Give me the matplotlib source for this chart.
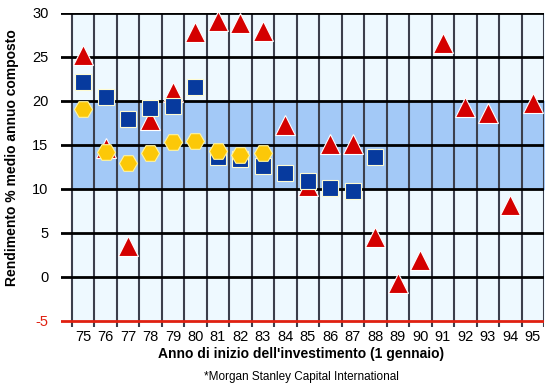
import numpy as np
import matplotlib.pyplot as plt

years = np.arange(75, 96)
year_labels = [str(y) for y in years]

# red triangles (one per year)
tri_vals = [25.2, 14.6, 3.5, 17.8, 21.0, 27.8, 29.1, 28.9, 27.9, 17.3, 10.3,
            15.1, 15.1, 4.5, -0.7, 1.9, 26.6, 19.3, 18.6, 8.2, 19.8]
# blue squares, 75-88
sq_years = np.arange(75, 89)
sq_vals = [22.2, 20.4, 18.0, 19.2, 19.4, 21.6, 13.6, 13.4, 12.6, 11.8, 10.9,
           10.1, 9.8, 13.6]
# yellow hexagons, 75-83
hex_years = np.arange(75, 84)
hex_vals = [19.1, 14.2, 12.9, 14.1, 15.3, 15.4, 14.3, 13.8, 14.1]

yticks = [-5, 0, 5, 10, 15, 20, 25, 30]

narrow = ['Liberation Sans Narrow', 'Liberation Sans', 'DejaVu Sans']

fig = plt.figure(figsize=(5.5, 3.87), dpi=100)
W, H = 550, 387
ax = fig.add_axes([61 / W, 1 - 327 / H, (544 - 61) / W, (327 - 13) / H])
ax.set_xlim(74.02, 95.5)
ax.set_ylim(-5.7, 30)
for s in ax.spines.values():
    s.set_visible(False)

# backgrounds
ax.fill_between([74.5, 95.5], -5, 30, color='#eef9ff', zorder=0)
ax.fill_between([74.5, 95.5], 10, 20, color='#a3c9f7', zorder=0.5)

# grid
ax.vlines(np.arange(74.5, 96), -5.7, 30, color='#3c3f4c', lw=1.5, zorder=1)
for y in yticks[1:]:
    ax.axhline(y, color='black', lw=2, zorder=1.5)
ax.axhline(-5, color='#e02010', lw=2, zorder=1.5)

ax.plot(years, tri_vals, '^', ms=14, color='#d40000', mec='white', mew=0.8,
        ls='none', zorder=3)
ax.plot(sq_years, sq_vals, 's', ms=11, color='#073a9e', mec='#fffbd0',
        mew=0.8, ls='none', zorder=4)
ax.plot(hex_years, hex_vals, 'H', ms=13, color='#fcc808', mec='#fff4a0',
        mew=0.8, ls='none', zorder=5)

ax.set_xticks(years)
ax.set_xticklabels(year_labels, family=narrow, fontsize=10.5)
ax.set_yticks(yticks)
ax.set_yticklabels([str(v) for v in yticks], family=narrow, fontsize=10.5)
ax.tick_params(axis='both', length=0)
ax.tick_params(axis='x', pad=2)
ax.tick_params(axis='y', pad=9)
ax.get_yticklabels()[0].set_color('#e02010')

fig.text(12 / W, 1 - 158 / H, 'Rendimento % medio annuo composto',
         rotation=90, ha='center', va='center', fontsize=10,
         fontweight='bold', family='Liberation Sans')
fig.text(301 / W, 1 - 354 / H, "Anno di inizio dell'investimento (1 gennaio)",
         ha='center', va='center', fontsize=10, fontweight='bold',
         family='Liberation Sans')
fig.text(301 / W, 1 - 377 / H, '*Morgan Stanley Capital International',
         ha='center', va='center', fontsize=8.5, family=narrow)

fig.savefig('out.png', dpi=100)
